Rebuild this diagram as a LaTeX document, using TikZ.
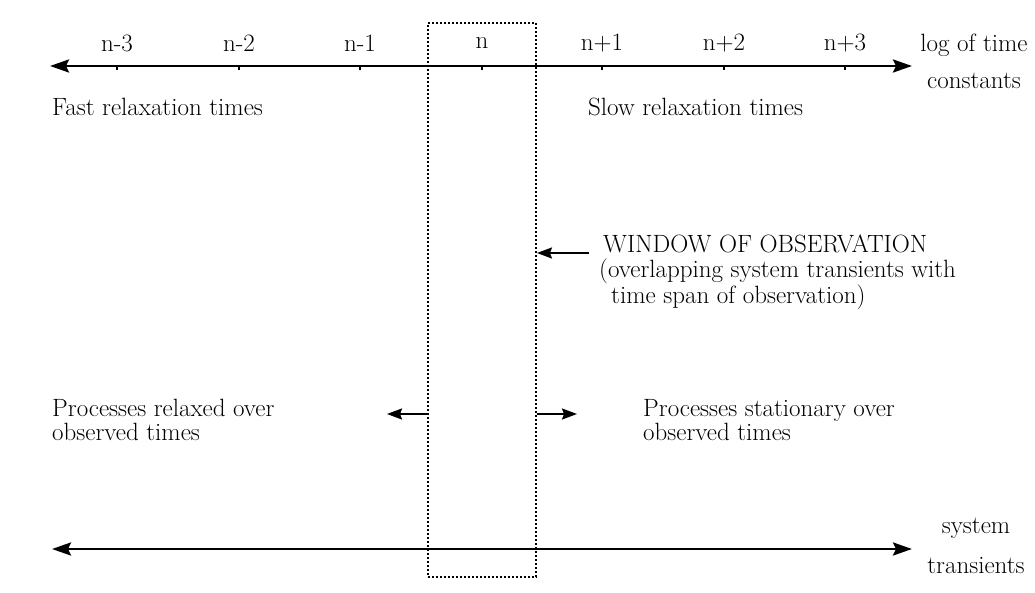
\documentclass[tikz,border=0pt]{standalone}
\usepackage{fontspec}
\usetikzlibrary{arrows.meta}
\begin{document}
\begin{tikzpicture}[x=1pt,y=-1pt,
  lbl/.style={inner sep=0pt,font=\fontsize{25}{24.8}\selectfont},
  axis/.style={line width=2.8pt,{Stealth[length=19pt,width=13pt,inset=3pt]}-{Stealth[length=19pt,width=13pt,inset=3pt]}},
  tickmark/.style={line width=1.8pt},
  winbox/.style={draw,line width=1.9pt,dash pattern=on 1.9pt off 2.1pt,minimum width=108pt,minimum height=554pt,inner sep=0pt},
  smallarrow/.style={line width=2pt,-{Stealth[length=15pt,width=11pt,inset=2pt]}}]
\useasboundingbox (0,0) rectangle (1035,593);
% window box
\node[winbox] (win) at (482,300) {};
% top axis
\coordinate (tl) at (50,66);
\coordinate (tr) at (912,66);
\draw[axis] (tl) -- (tr);
\foreach \x/\t [count=\i] in {117/n-3,239/n-2,360/n-1,482/n,602/n+1,724/n+2,845/n+3}{
  \coordinate (tk\i) at (\x,66);
  \draw[tickmark] (tk\i) -- ++(0,4);
  \node[lbl] (tl\i) at (\x,43) {\t};
}
\node[lbl,align=center] (logt) at (974,61) {log of time\\[12pt]constants};
\node[lbl,anchor=west] (fast) at (52,107) {Fast relaxation times};
\node[lbl,anchor=west] (slow) at (588,107) {Slow relaxation times};
% window label
\node[lbl,anchor=west,align=left] (wtxt) at (599,272) {\hspace{4pt}{\addfontfeature{LetterSpace=7}WINDOW OF OBSERVATION}\\(overlapping system transients with\\\hspace{12pt}time span of observation)};
\coordinate (wa) at (589,253);
\coordinate (wb) at (win.east |- wa);
\draw[smallarrow] (wa) -- (wb);
% side arrows
\coordinate (la) at (win.west |- 0,414);
\coordinate (lb) at (387,414);
\draw[smallarrow] (la) -- (lb);
\coordinate (ra) at (win.east |- 0,414);
\coordinate (rb) at (577,414);
\draw[smallarrow] (ra) -- (rb);
\node[lbl,anchor=west,align=left] (relax) at (52,420) {Processes relaxed over\\observed times};
\node[lbl,anchor=west,align=left] (stat) at (643,420) {Processes stationary over\\observed times};
% bottom axis
\coordinate (bl) at (52,549);
\coordinate (br) at (912,549);
\draw[axis] (bl) -- (br);
\node[lbl,align=center] (sys) at (976,546) {system\\[16pt]transients};
\end{tikzpicture}
\end{document}
